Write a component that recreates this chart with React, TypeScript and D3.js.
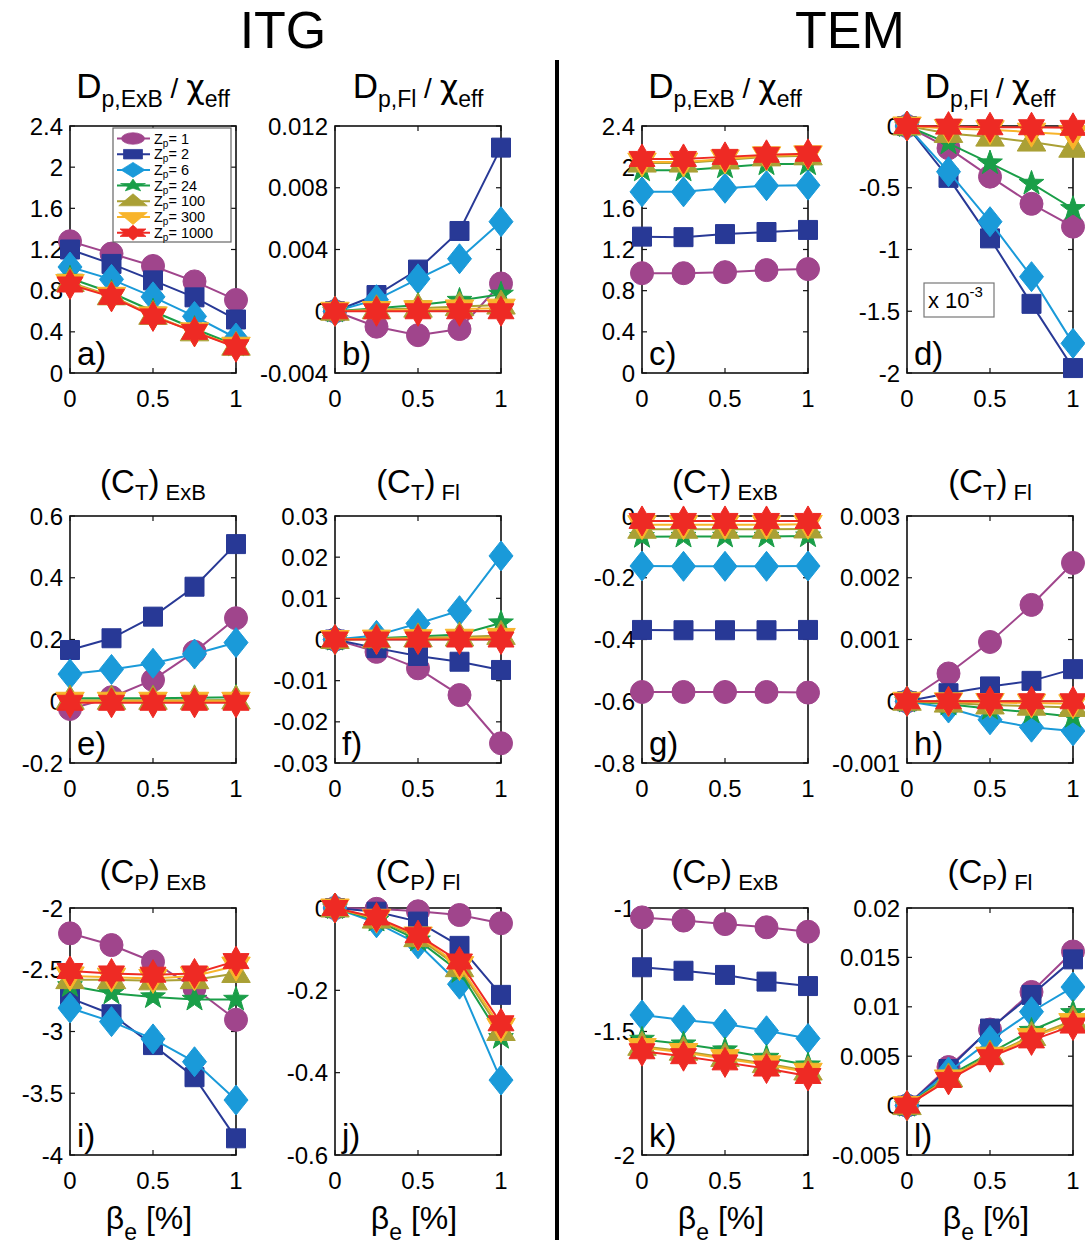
import React from "react";
import * as d3 from "d3";

// beta_e [%] values, common to all panels
const beta = [0, 0.25, 0.5, 0.75, 1];
const zpLabels = ["1", "2", "6", "24", "100", "300", "1000"];
const colors = ["#a0458c", "#283996", "#1a9ad9", "#1a9e48", "#aaa035", "#f8b42a", "#ee2a24"];

// ITG column
const itgDpExB = [
  [1.28, 1.16, 1.04, 0.89, 0.71],
  [1.2, 1.06, 0.9, 0.735, 0.52],
  [1.03, 0.91, 0.74, 0.55, 0.34],
  [0.92, 0.78, 0.6, 0.43, 0.27],
  [0.88, 0.75, 0.56, 0.4, 0.26],
  [0.87, 0.745, 0.555, 0.4, 0.26],
  [0.86, 0.74, 0.55, 0.4, 0.25],
];
const itgDpFl = [
  [0, -0.001, -0.00155, -0.00115, 0.0018],
  [0, 0.00105, 0.0027, 0.0052, 0.0106],
  [0, 0.00075, 0.0021, 0.0034, 0.0058],
  [0, 0.0002, 0.0004, 0.0007, 0.0011],
  [0, 0.0001, 0.0002, 0.0003, 0.0004],
  [0, 0.00005, 0.0001, 0.00015, 0.0002],
  [0, 0, 0, 0, 0],
];
const itgCtExB = [
  [-0.025, 0.013, 0.069, 0.16, 0.269],
  [0.166, 0.204, 0.274, 0.371, 0.509],
  [0.088, 0.103, 0.123, 0.153, 0.19],
  [0.01, 0.01, 0.01, 0.011, 0.013],
  [0.003, 0.003, 0.003, 0.003, 0.004],
  [0, 0, 0, 0, 0],
  [-0.005, -0.005, -0.005, -0.005, -0.005],
];
const itgCtFl = [
  [0, -0.003, -0.007, -0.0135, -0.0252],
  [0, -0.0021, -0.004, -0.0054, -0.0074],
  [0, 0.001, 0.0039, 0.007, 0.0203],
  [0, 0.0003, 0.0007, 0.0012, 0.004],
  [0, 0.0002, 0.0004, 0.0006, 0.001],
  [0, 0.0001, 0.0002, 0.0003, 0.0005],
  [0, 0, 0, 0, 0],
];
const itgCpExB = [
  [-2.205, -2.3, -2.435, -2.65, -2.905],
  [-2.73, -2.86, -3.11, -3.37, -3.865],
  [-2.81, -2.92, -3.06, -3.245, -3.555],
  [-2.63, -2.69, -2.72, -2.74, -2.74],
  [-2.58, -2.58, -2.59, -2.58, -2.53],
  [-2.55, -2.56, -2.57, -2.55, -2.47],
  [-2.51, -2.53, -2.54, -2.53, -2.43],
];
const itgCpFl = [
  [0, -0.002, -0.008, -0.017, -0.037],
  [0, -0.009, -0.033, -0.092, -0.211],
  [0, -0.036, -0.087, -0.185, -0.418],
  [0, -0.03, -0.078, -0.155, -0.315],
  [0, -0.027, -0.072, -0.145, -0.3],
  [0, -0.025, -0.068, -0.14, -0.29],
  [0, -0.023, -0.066, -0.13, -0.28],
];

// TEM column
const temDpExB = [
  [0.97, 0.97, 0.98, 1.0, 1.01],
  [1.325, 1.32, 1.35, 1.37, 1.39],
  [1.76, 1.76, 1.795, 1.82, 1.825],
  [1.97, 1.97, 2.0, 2.03, 2.03],
  [2.04, 2.04, 2.07, 2.1, 2.11],
  [2.05, 2.05, 2.08, 2.11, 2.12],
  [2.08, 2.08, 2.1, 2.12, 2.13],
];
// in units of 1e-3
const temDpFl = [
  [0, -0.18, -0.41, -0.63, -0.815],
  [0, -0.42, -0.91, -1.44, -1.96],
  [0, -0.37, -0.775, -1.22, -1.76],
  [0, -0.14, -0.3, -0.465, -0.67],
  [0, -0.06, -0.09, -0.13, -0.18],
  [0, -0.02, -0.03, -0.05, -0.07],
  [0, -0.005, -0.01, -0.01, -0.015],
];
const temCtExB = [
  [-0.57, -0.57, -0.57, -0.57, -0.572],
  [-0.369, -0.37, -0.37, -0.37, -0.369],
  [-0.162, -0.163, -0.163, -0.163, -0.162],
  [-0.067, -0.066, -0.066, -0.066, -0.065],
  [-0.043, -0.043, -0.043, -0.043, -0.042],
  [-0.028, -0.028, -0.028, -0.028, -0.027],
  [-0.016, -0.016, -0.016, -0.016, -0.016],
];
const temCtFl = [
  [0, 0.00045, 0.00096, 0.00156, 0.00224],
  [0, 0.00013, 0.00024, 0.00033, 0.00052],
  [0, -0.00011, -0.0003, -0.00042, -0.00048],
  [0, -0.00005, -0.00012, -0.00018, -0.00025],
  [0, -0.00003, -0.00006, -0.00008, -0.0001],
  [0, -0.00001, -0.00002, -0.00003, -0.00004],
  [0, 0, 0, 0, 0],
];
const temCpExB = [
  [-1.038, -1.051, -1.065, -1.078, -1.096],
  [-1.24, -1.254, -1.271, -1.298, -1.316],
  [-1.433, -1.453, -1.47, -1.497, -1.528],
  [-1.532, -1.551, -1.575, -1.605, -1.636],
  [-1.56, -1.58, -1.605, -1.63, -1.66],
  [-1.565, -1.585, -1.61, -1.635, -1.665],
  [-1.58, -1.6, -1.625, -1.65, -1.68],
];
const temCpFl = [
  [0, 0.0039, 0.0077, 0.0115, 0.0156],
  [0, 0.0037, 0.0078, 0.0112, 0.0148],
  [0, 0.0034, 0.0066, 0.0095, 0.012],
  [0, 0.003, 0.0053, 0.0076, 0.0094],
  [0, 0.0028, 0.0051, 0.007, 0.0086],
  [0, 0.0027, 0.005, 0.0069, 0.0084],
  [0, 0.0026, 0.0049, 0.0066, 0.0081],
];

// tick values
const xTicks = [0, 0.5, 1];
const ticksA = [0, 0.4, 0.8, 1.2, 1.6, 2, 2.4];
const ticksB = [-0.004, 0, 0.004, 0.008, 0.012];
const ticksD = [-2, -1.5, -1, -0.5, 0];
const ticksE = [-0.2, 0, 0.2, 0.4, 0.6];
const ticksF = [-0.03, -0.02, -0.01, 0, 0.01, 0.02, 0.03];
const ticksG = [-0.8, -0.6, -0.4, -0.2, 0];
const ticksH = [-0.001, 0, 0.001, 0.002, 0.003];
const ticksI = [-4, -3.5, -3, -2.5, -2];
const ticksJ = [-0.6, -0.4, -0.2, 0];
const ticksK = [-2, -1.5, -1];
const ticksL = [-0.005, 0, 0.005, 0.01, 0.015, 0.02];

const panels = [
  { id: "a", col: 0, row: 0, data: itgDpExB, ticks: ticksA, title: ["D", "p,ExB"], legend: true },
  { id: "b", col: 1, row: 0, data: itgDpFl, ticks: ticksB, title: ["D", "p,Fl"], zero: true },
  { id: "c", col: 2, row: 0, data: temDpExB, ticks: ticksA, title: ["D", "p,ExB"] },
  { id: "d", col: 3, row: 0, data: temDpFl, ticks: ticksD, title: ["D", "p,Fl"], mult: true },
  { id: "e", col: 0, row: 1, data: itgCtExB, ticks: ticksE, title: ["T", "ExB"], zero: true },
  { id: "f", col: 1, row: 1, data: itgCtFl, ticks: ticksF, title: ["T", "Fl"], zero: true },
  { id: "g", col: 2, row: 1, data: temCtExB, ticks: ticksG, title: ["T", "ExB"] },
  { id: "h", col: 3, row: 1, data: temCtFl, ticks: ticksH, title: ["T", "Fl"], zero: true },
  { id: "i", col: 0, row: 2, data: itgCpExB, ticks: ticksI, title: ["P", "ExB"] },
  { id: "j", col: 1, row: 2, data: itgCpFl, ticks: ticksJ, title: ["P", "Fl"] },
  { id: "k", col: 2, row: 2, data: temCpExB, ticks: ticksK, title: ["P", "ExB"] },
  { id: "l", col: 3, row: 2, data: temCpFl, ticks: ticksL, title: ["P", "Fl"], zero: true },
];

const colX = [70, 335, 642, 907];
const rowY = [126, 516, 908];
const PW = 166;
const PH = 247;
const titleY = [98, 493, 883];
const FONT = "'Liberation Sans', Arial, Helvetica, sans-serif";
const GREEK = "'DejaVu Sans', sans-serif";

// marker shapes (size = outer radius)
const circle = { draw(c: any, r: number) { c.moveTo(r, 0); c.arc(0, 0, r, 0, 2 * Math.PI); } };
const square = { draw(c: any, r: number) { c.rect(-r, -r, 2 * r, 2 * r); } };
const diamond = {
  draw(c: any, r: number) {
    const w = r * 0.8;
    c.moveTo(0, -r); c.lineTo(w, 0); c.lineTo(0, r); c.lineTo(-w, 0); c.closePath();
  },
};
const star = (n: number, ratio: number) => ({
  draw(c: any, r: number) {
    for (let i = 0; i < 2 * n; i++) {
      const a = -Math.PI / 2 + (i * Math.PI) / n;
      const rr = i % 2 ? r * ratio : r;
      if (i === 0) c.moveTo(rr * Math.cos(a), rr * Math.sin(a));
      else c.lineTo(rr * Math.cos(a), rr * Math.sin(a));
    }
    c.closePath();
  },
});
const triUp = {
  draw(c: any, r: number) {
    c.moveTo(0, -r); c.lineTo(r * 0.95, r * 0.6); c.lineTo(-r * 0.95, r * 0.6); c.closePath();
  },
};
const triDown = {
  draw(c: any, r: number) {
    c.moveTo(0, r); c.lineTo(r * 0.95, -r * 0.6); c.lineTo(-r * 0.95, -r * 0.6); c.closePath();
  },
};
const markerTypes = [circle, square, diamond, star(5, 0.4), triUp, triDown, star(6, 0.577)];
const markerSizes = [11.5, 9.5, 15, 13, 15, 15, 15];
const markerPaths = markerTypes.map((t, i) => d3.symbol().type(t as any).size(markerSizes[i])() as string);

function Title({ p, cx }: any) {
  const y = titleY[p.row];
  if (p.row === 0) {
    return (
      <text x={cx} y={y} textAnchor="middle" fontSize={35} fontFamily={FONT}>
        D<tspan fontSize={23} dy={9}>{p.title[1]}</tspan>
        <tspan fontSize={28} dy={-9}> / </tspan>
        <tspan fontSize={32} fontFamily={GREEK}>χ</tspan>
        <tspan fontSize={23} dy={9}>eff</tspan>
      </text>
    );
  }
  return (
    <text x={cx} y={y} textAnchor="middle" fontSize={33} fontFamily={FONT}>
      (C<tspan fontSize={22} dy={7}>{p.title[0]}</tspan>
      <tspan fontSize={33} dy={-7}>)</tspan>
      <tspan fontSize={22} dy={7}> {p.title[1]}</tspan>
    </text>
  );
}

function Panel({ p }: any) {
  const x0 = colX[p.col];
  const y0 = rowY[p.row];
  const ext = d3.extent(p.ticks) as [number, number];
  const x = d3.scaleLinear().domain([0, 1]).range([x0, x0 + PW]);
  const y = d3.scaleLinear().domain(ext).range([y0 + PH, y0]);
  const line = d3.line<number>().x((_, i) => x(beta[i])).y((v) => y(v));
  const cx = x0 + PW / 2;
  return (
    <g>
      <Title p={p} cx={cx} />
      {p.zero && (
        <line x1={x(0)} x2={x(1)} y1={y(0)} y2={y(0)} stroke="#000" strokeWidth={1.6} />
      )}
      <rect x={x0} y={y0} width={PW} height={PH} fill="none" stroke="#111" strokeWidth={1.6} />
      {p.ticks.map((t: number) => (
        <g key={t}>
          <line x1={x0} x2={x0 + 5} y1={y(t)} y2={y(t)} stroke="#111" strokeWidth={1.2} />
          <line x1={x0 + PW - 5} x2={x0 + PW} y1={y(t)} y2={y(t)} stroke="#111" strokeWidth={1.2} />
          <text x={x0 - 7} y={y(t) + 8.5} textAnchor="end" fontSize={24} fontFamily={FONT}>
            {String(t)}
          </text>
        </g>
      ))}
      {xTicks.map((t) => (
        <g key={t}>
          <line x1={x(t)} x2={x(t)} y1={y0 + PH} y2={y0 + PH - 5} stroke="#111" strokeWidth={1.2} />
          <line x1={x(t)} x2={x(t)} y1={y0} y2={y0 + 5} stroke="#111" strokeWidth={1.2} />
          <text x={x(t)} y={y0 + PH + 34} textAnchor="middle" fontSize={24} fontFamily={FONT}>
            {String(t)}
          </text>
        </g>
      ))}
      <text x={x0 + 7} y={y0 + PH - 8} fontSize={33} fontFamily={FONT}>
        {p.id})
      </text>
      {p.data.map((s: number[], k: number) => (
        <g key={k}>
          <path d={line(s) as string} fill="none" stroke={colors[k]} strokeWidth={2} />
          {s.map((v, i) => (
            <path
              key={i}
              d={markerPaths[k]}
              transform={`translate(${x(beta[i])},${y(v)})`}
              fill={colors[k]}
              stroke={colors[k]}
              strokeWidth={1}
            />
          ))}
        </g>
      ))}
      {p.mult && (
        <g>
          <rect x={924} y={283} width={70} height={34} fill="#fff" stroke="#777" strokeWidth={1.2} />
          <text x={928} y={308} fontSize={22} fontFamily={FONT}>
            x 10<tspan fontSize={15} dy={-11}>-3</tspan>
          </text>
        </g>
      )}
      {p.row === 2 && (
        <text x={cx - 4} y={1229} textAnchor="middle" fontSize={32} fontFamily={FONT}>
          β<tspan fontSize={23} dy={11}>e</tspan>
          <tspan fontSize={32} dy={-11}> [%]</tspan>
        </text>
      )}
      {p.legend && <Legend />}
    </g>
  );
}

function Legend() {
  const lx = 113;
  const ly = 128;
  return (
    <g>
      <rect x={lx} y={ly} width={118} height={114} fill="#fff" stroke="#666" strokeWidth={1.2} />
      {zpLabels.map((z, i) => {
        const cy = ly + 10.5 + i * 15.7;
        return (
          <g key={z}>
            <line x1={lx + 4} x2={lx + 37} y1={cy} y2={cy} stroke={colors[i]} strokeWidth={2} />
            <path
              d={markerPaths[i]}
              transform={`translate(${lx + 20},${cy}) scale(1,0.5)`}
              fill={colors[i]}
              stroke={colors[i]}
            />
            <text x={lx + 41} y={cy + 5} fontSize={14.5} fontFamily={FONT}>
              Z<tspan fontSize={10} dy={3}>p</tspan>
              <tspan fontSize={14.5} dy={-3}>= {z}</tspan>
            </text>
          </g>
        );
      })}
    </g>
  );
}

export default function App() {
  return (
    <svg
      width={1085}
      height={1246}
      style={{ position: "absolute", left: 0, top: 0, background: "#fff" }}
    >
      <rect width={1085} height={1246} fill="#fff" />
      <text x={283} y={48} textAnchor="middle" fontSize={52} fontFamily={FONT}>ITG</text>
      <text x={850} y={48} textAnchor="middle" fontSize={52} fontFamily={FONT}>TEM</text>
      <line x1={557} x2={557} y1={60} y2={1240} stroke="#000" strokeWidth={4} />
      {panels.map((p) => (
        <Panel key={p.id} p={p} />
      ))}
    </svg>
  );
}
